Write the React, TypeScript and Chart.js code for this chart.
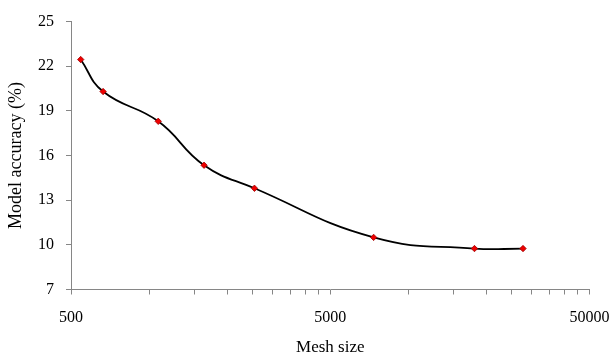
import React, { useEffect, useRef } from "react";
import { Chart, registerables } from "chart.js";

Chart.register(...registerables);

const meshSizes = [545, 665, 1085, 1630, 2550, 7350, 18000, 27700];
const accuracy = [22.45, 20.3, 18.3, 15.35, 13.8, 10.5, 9.75, 9.75];
const xTickValues = [
  500, 1000, 1500, 2000, 2500, 3000, 3500, 4000, 4500, 5000,
  10000, 15000, 20000, 25000, 30000, 35000, 40000, 45000, 50000,
];
const xLabeled = [500, 5000, 50000];
const yMin = 7;
const yMax = 25;
const yStep = 3;

const FONT = "'Liberation Serif', 'Times New Roman', serif";
const AXIS_GRAY = "#868686";

export default function App() {
  const ref = useRef<HTMLCanvasElement | null>(null);

  useEffect(() => {
    document.body.style.margin = "0";
    const canvas = ref.current;
    if (!canvas) return;
    const chart = new Chart(canvas, {
      type: "scatter",
      data: {
        datasets: [
          {
            data: meshSizes.map((x, i) => ({ x, y: accuracy[i] })),
            showLine: true,
            borderColor: "#000000",
            borderWidth: 1.8,
            tension: 0.45,
            pointStyle: "rectRot",
            pointRadius: 3.2,
            pointBackgroundColor: "#ee0000",
            pointBorderColor: "#a00000",
            pointBorderWidth: 0.8,
          },
        ],
      },
      options: {
        animation: false,
        responsive: false,
        devicePixelRatio: 1,
        layout: { padding: { left: 0, right: 21.5, top: 12, bottom: 0 } },
        plugins: {
          legend: { display: false },
          tooltip: { enabled: false },
        },
        scales: {
          x: {
            type: "logarithmic",
            min: 500,
            max: 50000,
            afterBuildTicks: (scale: any) => {
              scale.ticks = xTickValues.map((v) => ({ value: v }));
            },
            afterFit: (scale: any) => {
              scale.height = 68.5;
              scale.paddingRight = 0;
              scale.paddingLeft = 0;
            },
            grid: {
              drawOnChartArea: false,
              drawTicks: true,
              tickLength: 5,
              color: AXIS_GRAY,
            },
            border: { color: AXIS_GRAY, width: 1 },
            ticks: {
              autoSkip: false,
              maxRotation: 0,
              minRotation: 0,
              padding: 14,
              color: "#000000",
              font: { family: FONT, size: 16 },
              callback: (value: any) =>
                xLabeled.includes(Number(value)) ? String(value) : "",
            },
            title: {
              display: true,
              text: "Mesh size",
              color: "#000000",
              font: { family: FONT, size: 17 },
              padding: { top: 0, bottom: 0 },
            },
          },
          y: {
            min: yMin,
            max: yMax,
            afterFit: (scale: any) => {
              scale.width = 71;
            },
            grid: {
              drawOnChartArea: false,
              drawTicks: true,
              tickLength: 5,
              color: AXIS_GRAY,
            },
            border: { color: AXIS_GRAY, width: 1 },
            ticks: {
              stepSize: yStep,
              padding: 12,
              color: "#000000",
              font: { family: FONT, size: 16 },
            },
            title: {
              display: true,
              text: "Model accuracy (%)",
              color: "#000000",
              font: { family: FONT, size: 18 },
              padding: { top: 5, bottom: 0 },
            },
          },
        },
      },
    });
    return () => chart.destroy();
  }, []);

  return (
    <div style={{ width: 611, height: 358, background: "#ffffff" }}>
      <canvas ref={ref} width={611} height={358} />
    </div>
  );
}
